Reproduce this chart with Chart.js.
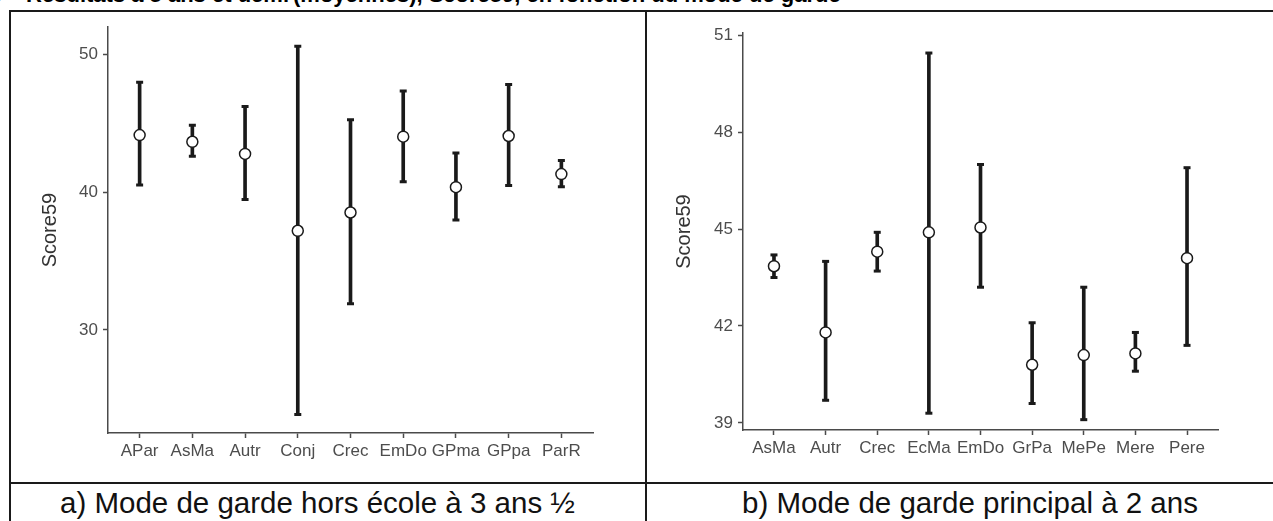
<!DOCTYPE html>
<html><head><meta charset="utf-8">
<script src="https://cdn.jsdelivr.net/npm/chart.js@4.4.1/dist/chart.umd.min.js"></script>
<style>
html,body{margin:0;padding:0;background:#fff;width:1273px;height:521px;overflow:hidden;position:relative;font-family:"Liberation Sans",Arial,sans-serif}
.ln{position:absolute;background:#1a1a1a}
.cap{position:absolute;top:484px;height:37px;line-height:37px;font-size:29.5px;color:#111;white-space:nowrap}
.ttl{position:absolute;top:-18px;font-size:22px;font-weight:bold;color:#000;white-space:nowrap;line-height:26px}
canvas{position:absolute}
</style></head><body>
<div class="ttl" style="right:984px">Figure 3 – Résultats à 5 ans et demi</div>
<div class="ttl" style="left:293px">(moyennes), Score59, en fonction du mode de garde</div>
<canvas id="cA" style="left:10px;top:12px;width:635px;height:470px"></canvas>
<canvas id="cB" style="left:647px;top:12px;width:626px;height:470px"></canvas>
<div class="ln" style="left:9px;top:10px;width:1264px;height:2px"></div>
<div class="ln" style="left:9px;top:10px;width:2px;height:511px"></div>
<div class="ln" style="left:645px;top:10px;width:2px;height:511px"></div>
<div class="ln" style="left:9px;top:482px;width:1264px;height:2px"></div>
<div class="cap" style="left:60px">a) Mode de garde hors école à 3 ans ½</div>
<div class="cap" style="left:742px">b) Mode de garde principal à 2 ans</div>
<script>
// Panel a
const catsA = ['APar','AsMa','Autr','Conj','Crec','EmDo','GPma','GPpa','ParR'];
const meanA = [44.16, 43.67, 42.79, 37.2, 38.53, 44.04, 40.37, 44.09, 41.32];
const highA = [48.0, 44.88, 46.23, 50.62, 45.28, 47.37, 42.86, 47.84, 42.31];
const lowA  = [40.53, 42.62, 39.47, 23.84, 31.9, 40.77, 37.99, 40.49, 40.41];
const ticksA = [30, 40, 50];
// Panel b
const catsB = ['AsMa','Autr','Crec','EcMa','EmDo','GrPa','MePe','Mere','Pere'];
const meanB = [43.85, 41.8, 44.3, 44.9, 45.05, 40.8, 41.1, 41.15, 44.1];
const highB = [44.2, 44.0, 44.9, 50.45, 47.0, 42.1, 43.2, 41.8, 46.9];
const lowB  = [43.5, 39.7, 43.7, 39.3, 43.2, 39.6, 39.1, 40.6, 41.4];
const ticksB = [39, 42, 45, 48, 51];

const INK = '#1a1a1a', AX = '#4a4a4a', TXT = '#4d4d4d';
const FONT = '"Liberation Sans", Arial, sans-serif';

function makeChart(id, cats, mean, high, low, ticks, cfg){
  const ctx = document.getElementById(id);
  const pts = arr => arr.map((v,i)=>({x:i, y:v}));
  return new Chart(ctx, {
    type:'bar',
    data:{datasets:[
      {type:'line', data:pts(mean), showLine:false, pointStyle:'circle', pointRadius:5.5,
       pointBackgroundColor:'#fff', pointBorderColor:INK, pointBorderWidth:1.5, order:1},
      {type:'line', data:pts(high), showLine:false, pointStyle:'line', pointRadius:3.5,
       pointBorderColor:INK, pointBorderWidth:3, order:2},
      {type:'line', data:pts(low), showLine:false, pointStyle:'line', pointRadius:3.5,
       pointBorderColor:INK, pointBorderWidth:3, order:2},
      {type:'bar', data:cats.map((c,i)=>({x:i, y:[low[i], high[i]]})), backgroundColor:INK,
       borderWidth:0, barThickness:3, grouped:false, order:3}
    ]},
    options:{
      responsive:false, animation:false, devicePixelRatio:1,
      layout:{padding:{left:0, top:cfg.top, right:cfg.right, bottom:0}},
      plugins:{legend:{display:false}, tooltip:{enabled:false}},
      scales:{
        x:{type:'linear', min:-0.6, max:cats.length-0.4, offset:false,
           afterBuildTicks:s=>{s.ticks = cats.map((c,i)=>({value:i}));},
           afterFit:s=>{s.height = cfg.xh;},
           ticks:{callback:v=>cats[v], color:TXT, font:{family:FONT, size:17}, padding:3, maxRotation:0, autoSkip:false},
           grid:{offset:false, drawOnChartArea:false, drawTicks:true, tickLength:5, color:AX, tickWidth:1.5},
           border:{display:true, color:AX, width:1.5}},
        y:{type:'linear', min:cfg.ymin, max:cfg.ymax,
           afterBuildTicks:s=>{s.ticks = ticks.map(v=>({value:v}));},
           afterFit:s=>{s.width = cfg.yw;},
           ticks:{color:TXT, font:{family:FONT, size:17}, padding:5},
           grid:{offset:false, drawOnChartArea:false, drawTicks:true, tickLength:5, color:AX, tickWidth:1.5},
           border:{display:true, color:AX, width:1.5},
           title:{display:true, text:'Score59', color:'#333', font:{family:FONT, size:20}, padding:{top:cfg.tp, bottom:0}}}
      }
    }
  });
}
function setSize(id, w, h){const c=document.getElementById(id); c.width=w; c.height=h;}
setSize('cA', 635, 470); setSize('cB', 626, 470);
// panel a canvas at (10,12)
makeChart('cA', catsA, meanA, highA, lowA, ticksA, {top:7, right:635-583, xh:470-421, yw:98, ymin:22.5, ymax:52.0, tp:28});
// panel b canvas at (647,12)
makeChart('cB', catsB, meanB, highB, lowB, ticksB, {top:21, right:626-571, xh:470-418, yw:96, ymin:38.78, ymax:51.07, tp:25});
</script>
</body></html>
